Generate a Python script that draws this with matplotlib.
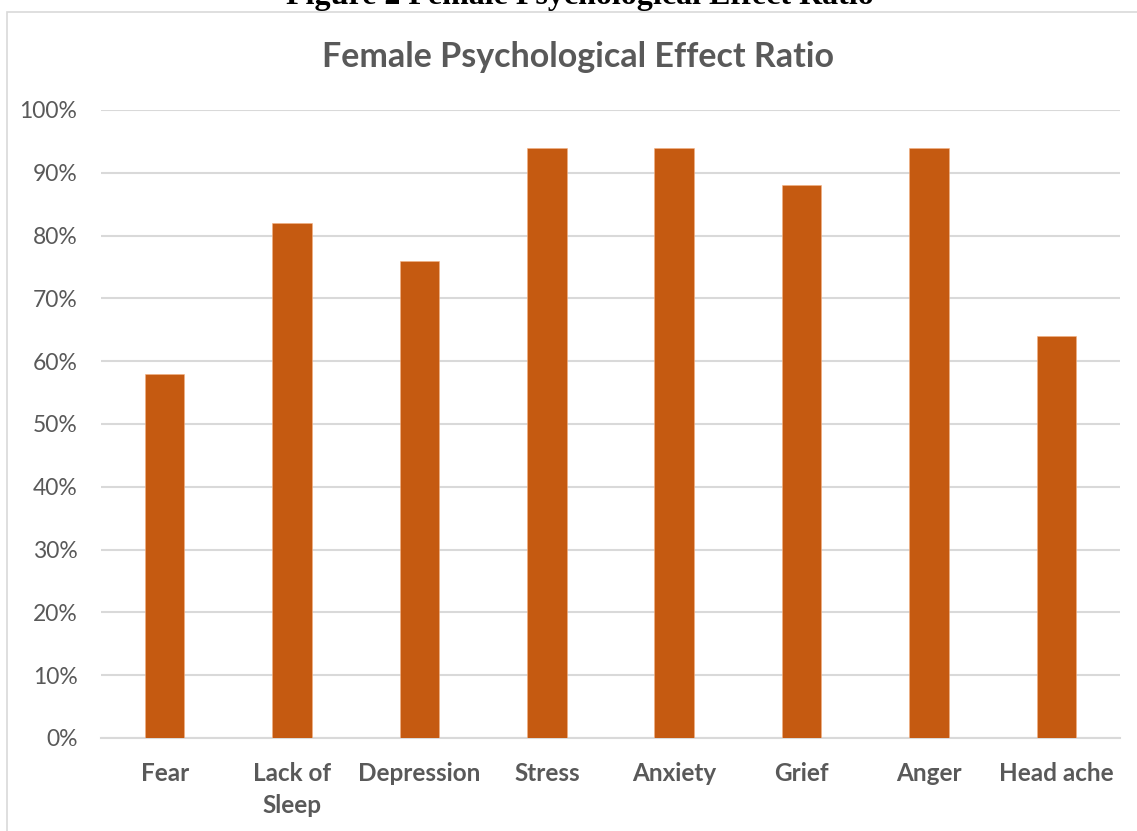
import matplotlib
matplotlib.use("Agg")
import matplotlib.pyplot as plt
from matplotlib.patches import Rectangle
from matplotlib.ticker import PercentFormatter

categories = ["Fear", "Lack of\nSleep", "Depression", "Stress", "Anxiety", "Grief", "Anger", "Head ache"]
values = [58, 82, 76, 94, 94, 88, 94, 64]
yticks = [0, 10, 20, 30, 40, 50, 60, 70, 80, 90, 100]

W, H = 1137, 831
fig = plt.figure(figsize=(W / 100, H / 100), dpi=100)
fig.patch.set_facecolor("white")

# chart border (partially visible)
fig.patches.append(Rectangle((7 / W, -0.1), 1.2, 1 - 12 / H + 0.1, transform=fig.transFigure,
                             fill=False, edgecolor="#D9D9D9", linewidth=1.2))

ax = fig.add_axes([101 / W, 1 - 738 / H, (1120 - 101) / W, (738 - 110) / H])
x = range(len(categories))
ax.bar(x, values, width=0.31, color="#C55A11", edgecolor="#F4B183", linewidth=0.4, zorder=3)
ax.set_xlim(-0.5, len(categories) - 0.5)
ax.set_ylim(0, 100)
ax.set_yticks(yticks)
ax.yaxis.set_major_formatter(PercentFormatter(decimals=0))
ax.grid(axis="y", color="#D9D9D9", linewidth=1.5, zorder=0)
for s in ["top", "right", "left"]:
    ax.spines[s].set_visible(False)
ax.spines["bottom"].set_color("#D9D9D9")
ax.spines["bottom"].set_linewidth(1.5)
ax.tick_params(axis="both", length=0)
ax.tick_params(axis="y", pad=17, labelsize=16.5, labelcolor="#595959")
ax.set_xticks(list(x))
ax.set_xticklabels(categories, fontsize=17.5, fontweight="bold", color="#595959",
                   family="Lato", linespacing=1.5)
ax.tick_params(axis="x", pad=17)
for lab in ax.get_yticklabels():
    lab.set_family("Lato")

fig.text(578 / W, 1 - 57 / H, "Female Psychological Effect Ratio", ha="center", va="center",
         fontsize=24.5, fontweight="bold", color="#595959", family="Lato")
fig.text(580 / W, 1 - 4 / H, "Figure 2 Female Psychological Effect Ratio", ha="center", va="baseline",
         fontsize=23, fontweight="bold", color="black", family="Liberation Serif")

fig.savefig("out.png", dpi=100)
